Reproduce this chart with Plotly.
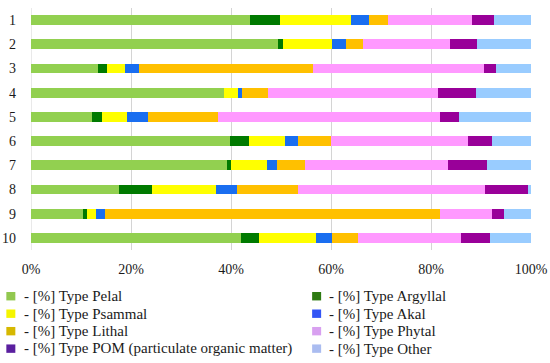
import plotly.graph_objects as go

sites = ["1", "2", "3", "4", "5", "6", "7", "8", "9", "10"]

series_names = [
    "- [%] Type Pelal",
    "- [%] Type Argyllal",
    "- [%] Type Psammal",
    "- [%] Type Akal",
    "- [%] Type Lithal",
    "- [%] Type Phytal",
    "- [%] Type POM (particulate organic matter)",
    "- [%] Type Other",
]

pelal    = [43.7, 49.4, 13.4, 38.5, 12.2, 39.7, 39.1, 17.6, 10.3, 41.9]
argyllal = [6.0, 1.0, 1.7, 0.0, 2.0, 3.8, 0.8, 6.6, 0.8, 3.6]
psammal  = [14.2, 9.7, 3.7, 2.8, 5.0, 7.3, 7.3, 12.7, 1.9, 11.5]
akal     = [3.6, 2.8, 2.7, 0.8, 4.1, 2.6, 1.9, 4.2, 1.8, 3.1]
lithal   = [3.8, 3.5, 34.9, 5.3, 14.0, 6.5, 5.7, 12.3, 67.0, 5.2]
phytal   = [16.9, 17.4, 34.1, 34.0, 44.4, 27.4, 28.5, 37.4, 10.3, 20.7]
pom      = [4.4, 5.4, 2.5, 7.6, 3.8, 4.8, 7.9, 8.5, 2.4, 5.7]
other    = [7.4, 10.8, 7.0, 11.0, 14.5, 7.9, 8.8, 0.7, 5.5, 8.3]

values = [pelal, argyllal, psammal, akal, lithal, phytal, pom, other]

# styles
colors = ["#92D050", "#007A00", "#FFFF00", "#1A6EF0",
          "#FFC000", "#FF99FF", "#990099", "#99CCFF"]
legend_colors = ["#92C850", "#2E7A12", "#F5F500", "#3355F5",
                 "#D6B800", "#D8A0F0", "#5A1F9F", "#AABCF0"]

W, H = 550, 363
L, R, T, B = 30.5, 18.5, 8, 112.6
pw, ph = W - L - R, H - T - B


def px_x(x):
    return (x - L) / pw


def px_y(y):
    return (H - B - y) / ph


fig = go.Figure()
for name, vals, col in zip(series_names, values, colors):
    fig.add_trace(go.Bar(
        y=sites, x=vals, name=name, orientation="h",
        marker=dict(color=col, line=dict(width=0)),
    ))

# manual two-column legend (column-major like the original)
col_sq_x = [10.3, 316.7]
col_tx_x = [22.7, 328.3]
row_y = [296.7, 314.2, 331.7, 349.2]
shapes, annotations = [], []
for i, (name, lc) in enumerate(zip(series_names, legend_colors)):
    c, r = i % 2, i // 2
    shapes.append(dict(
        type="rect", xref="paper", yref="paper",
        xsizemode="pixel", ysizemode="pixel",
        xanchor=px_x(col_sq_x[c]), yanchor=px_y(row_y[r]),
        x0=-4.5, x1=4.5, y0=-4.2, y1=4.2,
        fillcolor=lc, line=dict(width=0), layer="above",
    ))
    annotations.append(dict(
        text=name, xref="paper", yref="paper",
        x=px_x(col_tx_x[c] - 1), y=px_y(row_y[r]),
        xanchor="left", yanchor="middle", showarrow=False,
        font=dict(family="Liberation Serif", size=15, color="#1a1a1a"),
    ))

fig.update_layout(
    barmode="stack",
    bargap=0.59,
    width=W, height=H,
    margin=dict(l=L, r=R, t=T, b=B, autoexpand=False),
    paper_bgcolor="white", plot_bgcolor="white",
    font=dict(family="Liberation Serif", size=14, color="#1a1a1a"),
    xaxis=dict(
        range=[0, 100], tickmode="array", tickvals=[0, 20, 40, 60, 80, 100],
        ticktext=["0%", "20%", "40%", "60%", "80%", "100%"],
        showgrid=True, gridcolor="#D4D4D4", gridwidth=1,
        zeroline=False, showline=False, ticks="", ticklabelstandoff=9,
        fixedrange=True,
    ),
    yaxis=dict(
        autorange="reversed", categoryorder="array", categoryarray=sites,
        tickmode="array", tickvals=sites, ticktext=sites,
        showgrid=False, zeroline=False, showline=False, ticks="",
        ticklabelstandoff=14, fixedrange=True,
    ),
    showlegend=False,
    shapes=shapes,
    annotations=annotations,
)

fig.add_shape(type="line", xref="x", yref="paper", x0=0, x1=0, y0=0, y1=1,
              line=dict(color="#D4D4D4", width=1), layer="below")

fig.write_html(
    "out.html",
    config={"displayModeBar": False},
    post_script="document.body.style.margin='0';document.body.style.overflow='hidden';",
)
